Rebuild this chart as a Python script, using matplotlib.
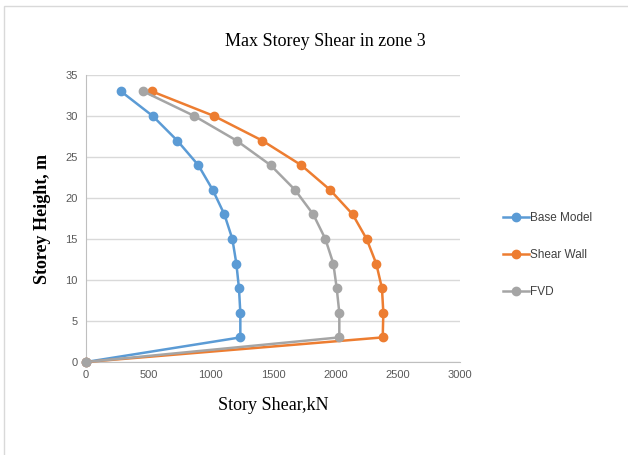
import matplotlib
matplotlib.use("Agg")
import matplotlib.pyplot as plt
from matplotlib.patches import Rectangle

# storey levels (m) and max storey shear (kN) per model
heights = [0, 3, 6, 9, 12, 15, 18, 21, 24, 27, 30, 33]
base_model = [0, 1238, 1238, 1227, 1206, 1174, 1110, 1016, 901, 732, 535, 281]
shear_wall = [0, 2380, 2385, 2374, 2328, 2251, 2139, 1957, 1727, 1414, 1027, 529]
fvd = [0, 2032, 2032, 2011, 1984, 1920, 1823, 1676, 1481, 1208, 869, 460]

series = [
    ("Base Model", base_model, "#5B9BD5"),
    ("Shear Wall", shear_wall, "#ED7D31"),
    ("FVD", fvd, "#A5A5A5"),
]

x_ticks = [0, 500, 1000, 1500, 2000, 2500, 3000]
y_ticks = [0, 5, 10, 15, 20, 25, 30, 35]

fig = plt.figure(figsize=(6.28, 4.55), dpi=100)
fig.patches.append(Rectangle((4 / 628, -0.01), 1.0, 1 - 6 / 455 + 0.01,
                             transform=fig.transFigure, fill=False,
                             edgecolor="#D9D9D9", linewidth=1.0))

ax = fig.add_axes([86 / 628, 1 - 362 / 455, 374 / 628, 287 / 455])

for name, vals, color in series:
    ax.plot(vals, heights, color=color, linewidth=1.8, marker="o",
            markersize=6, label=name, clip_on=False, zorder=3)

ax.set_xlim(0, 3000)
ax.set_ylim(0, 35)
ax.set_xticks(x_ticks)
ax.set_yticks(y_ticks)
ax.grid(axis="y", color="#D9D9D9", linewidth=1.0)
ax.set_axisbelow(True)
for side in ["top", "right"]:
    ax.spines[side].set_visible(False)
for side in ["left", "bottom"]:
    ax.spines[side].set_color("#BFBFBF")
ax.tick_params(length=0, labelsize=8, labelcolor="#595959", pad=6)
for lbl in ax.get_xticklabels() + ax.get_yticklabels():
    lbl.set_family("Liberation Sans")

ax.set_xlabel("Story Shear,kN", family="Liberation Serif", fontsize=13, labelpad=12)
ax.set_ylabel("Storey Height, m", family="Liberation Serif", fontsize=13,
              fontweight="bold", labelpad=10)

fig.text(325 / 628, 1 - 41 / 455, "Max Storey Shear in zone 3",
         family="Liberation Serif", fontsize=13, ha="center", va="center")

leg = fig.legend(loc="center left", bbox_to_anchor=(492 / 628, 1 - 255 / 455),
                 frameon=False, handlelength=2.2, handletextpad=0.1,
                 labelspacing=2.1, prop={"family": "Liberation Sans", "size": 8.5})
for t in leg.get_texts():
    t.set_color("#404040")

fig.savefig("out.png", dpi=100)
